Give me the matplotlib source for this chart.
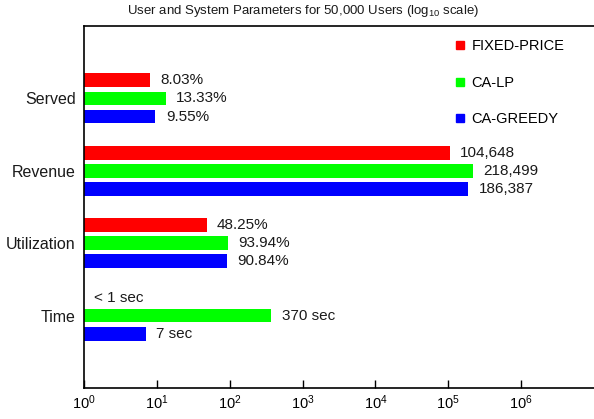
import matplotlib
matplotlib.use("Agg")
import matplotlib.pyplot as plt
from matplotlib.lines import Line2D
import numpy as np

plt.rcParams['font.family'] = ['Liberation Sans', 'DejaVu Sans']
plt.rcParams['mathtext.fontset'] = 'custom'
plt.rcParams['mathtext.rm'] = 'Liberation Sans'
plt.rcParams['mathtext.it'] = 'Liberation Sans:italic'

categories = ["Served", "Revenue", "Utilization", "Time"]
series = ["FIXED-PRICE", "CA-LP", "CA-GREEDY"]
colors = ["#ff0000", "#00ff00", "#0000ff"]

fixed_price = [8.03, 104648, 48.25, 1.0]
ca_lp = [13.33, 218499, 93.94, 370]
ca_greedy = [9.55, 186387, 90.84, 7]

fixed_labels = ["8.03%", "104,648", "48.25%", "< 1 sec"]
lp_labels = ["13.33%", "218,499", "93.94%", "370 sec"]
greedy_labels = ["9.55%", "186,387", "90.84%", "7 sec"]

values = [fixed_price, ca_lp, ca_greedy]
labels = [fixed_labels, lp_labels, greedy_labels]

fig = plt.figure(figsize=(5.94, 4.19), dpi=100)
ax = fig.add_axes([84 / 594, 1 - 388 / 419, 1 - 84 / 594, (388 - 26) / 419])

y = np.arange(len(categories))
offsets = [-0.25, 0.0, 0.25]
for vals, labs, c, off, name in zip(values, labels, colors, offsets, series):
    vals = np.array(vals)
    ax.barh(y + off, vals - 1, left=1, height=0.19, color=c, label=name)
    for yi, v, lab in zip(y + off, vals, labs):
        ax.annotate(lab, xy=(v, yi), xytext=(7.5, 0), textcoords="offset points",
                    va="center", ha="left", fontsize=11, color="#1a1a1a")

ax.set_xscale("log")
ax.set_xlim(1, 1e7)
ax.set_xticks([10 ** i for i in range(7)])
ax.minorticks_off()
ax.set_ylim(len(categories), -1)
ax.set_yticks(y)
ax.set_yticklabels(categories, fontsize=11.5, color="#1a1a1a")
ax.tick_params(axis="y", length=0, pad=6)
ax.tick_params(axis="x", direction="in", length=6, width=1, labelsize=10.5, pad=4)
ax.spines["right"].set_visible(False)
for s in ["left", "bottom", "top"]:
    ax.spines[s].set_linewidth(1.2)

handles = [Line2D([], [], marker="s", linestyle="none", color=c, markersize=6)
           for c in colors]
ax.legend(handles, series, loc="upper left", bbox_to_anchor=(0.697, 1.0),
          frameon=False, fontsize=10.5, labelspacing=1.55, handletextpad=0.3,
          handlelength=1.0, borderaxespad=0.5)

fig.text(303 / 594, 1 - 11 / 419,
         r"User and System Parameters for 50,000 Users (log$_{10}$ scale)",
         ha="center", va="center", fontsize=9.5, color="#1a1a1a")

fig.savefig("out.png", dpi=100)
